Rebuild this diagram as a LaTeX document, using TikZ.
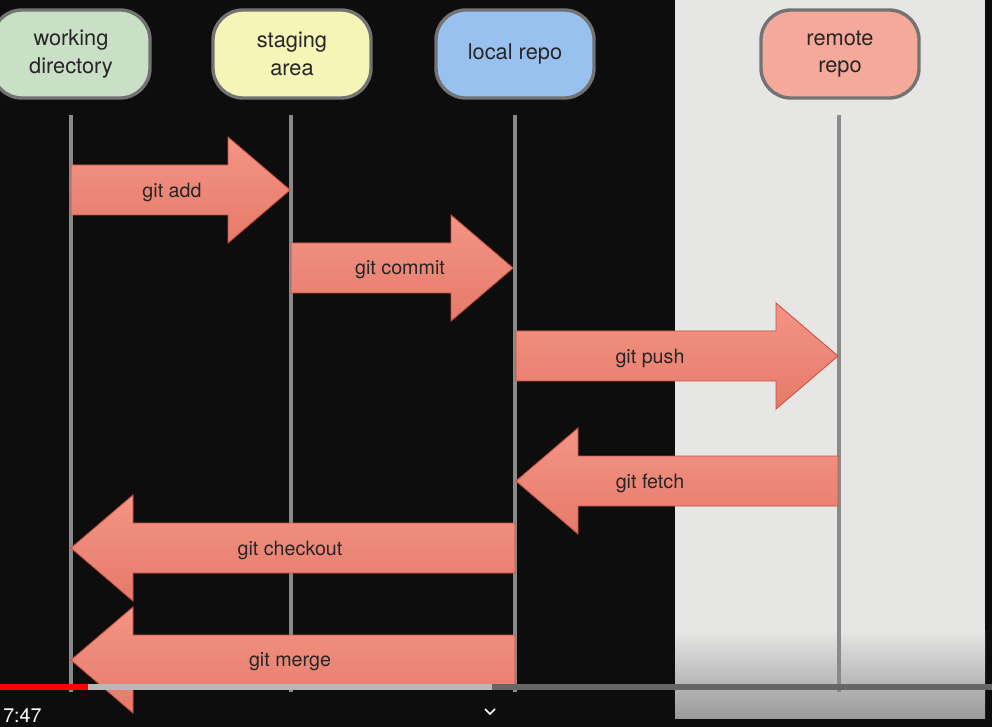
\documentclass[tikz,border=0pt]{standalone}
\usepackage{fontspec}
\setmainfont{TeX Gyre Heros}
\usetikzlibrary{calc}

\definecolor{screenbg}{HTML}{0D0D0D}
\definecolor{slidegray}{HTML}{E6E7E5}
\definecolor{wdgreen}{HTML}{C9DFC6}
\definecolor{sayellow}{HTML}{F6F5B8}
\definecolor{lrblue}{HTML}{99C1EF}
\definecolor{rrsalmon}{HTML}{F4A99A}
\definecolor{arrowtop}{HTML}{F49585}
\definecolor{arrowbottom}{HTML}{E57A6A}
\definecolor{arrowedge}{HTML}{C9503F}
\definecolor{lifegray}{HTML}{8A8A8A}

\tikzset{
  repo/.style={draw=black!55, line width=2.4pt, rounded corners=0.75cm,
    minimum width=3.95cm, minimum height=2.2cm, align=center,
    text=black!85, font=\fontsize{15.5}{19.5}\selectfont},
  lifeline/.style={draw=lifegray, line width=2.4pt},
  cmdarrow/.style={top color=arrowtop, bottom color=arrowbottom,
    draw=arrowedge, line width=0.6pt},
  cmdlabel/.style={text=black!85, font=\fontsize{14}{16}\selectfont}
}

% block arrow from one lifeline to another
\newcommand\gitarrow[6]{% name, from x, to x, y, label x, label
  \pgfmathsetmacro\headbase{#3-62*sign(#3-#2)}
  \draw[cmdarrow] (#2,#4-25) -- (\headbase,#4-25) -- (\headbase,#4-53)
    -- (#3,#4) -- (\headbase,#4+53) -- (\headbase,#4+25) -- (#2,#4+25) -- cycle;
  \node[cmdlabel] (#1) at (#5,#4+2) {#6};
}

\begin{document}
\begin{tikzpicture}[x=0.025cm, y=-0.025cm]

\useasboundingbox (0,0) rectangle (992,727);
\clip (0,0) rectangle (992,727);

% backgrounds
\fill[screenbg] (0,0) rectangle (992,727);
\fill[slidegray] (675,0) rectangle (985,630);
\shade[top color=slidegray, bottom color=black!40] (675,630) rectangle (985,718);

% header boxes
\node[repo, fill=wdgreen]  (wd)     at (71,54)  {working\\directory};
\node[repo, fill=sayellow] (stage)  at (292,54) {staging\\area};
\node[repo, fill=lrblue]   (local)  at (515,54) {local repo};
\node[repo, fill=rrsalmon] (remote) at (840,54) {remote\\repo};

% lifelines
\foreach \x in {71,291,515,839}
  \draw[lifeline] (\x,115) -- (\x,692);

% commands
\gitarrow{add}{71}{290}{190}{172}{git add}
\gitarrow{commit}{291}{513}{268}{400}{git commit}
\gitarrow{push}{516}{838}{356}{650}{git push}
\gitarrow{fetch}{838}{516}{481}{650}{git fetch}
\gitarrow{checkout}{515}{71}{548}{290}{git checkout}
\gitarrow{merge}{515}{71}{660}{290}{git merge}

% player bar
\fill[black!60] (0,684) rectangle (992,690);
\fill[black!22, opacity=0.85] (88,684) rectangle (492,690);
\fill[red] (0,684) rectangle (88,690);
\node[anchor=west, text=white, font=\fontsize{14}{16}\selectfont, inner sep=0pt] (time) at (3,716) {7:47};
\draw[white, line width=1.2pt] (485,709) -- (490,714) -- (495,709);

\end{tikzpicture}
\end{document}
